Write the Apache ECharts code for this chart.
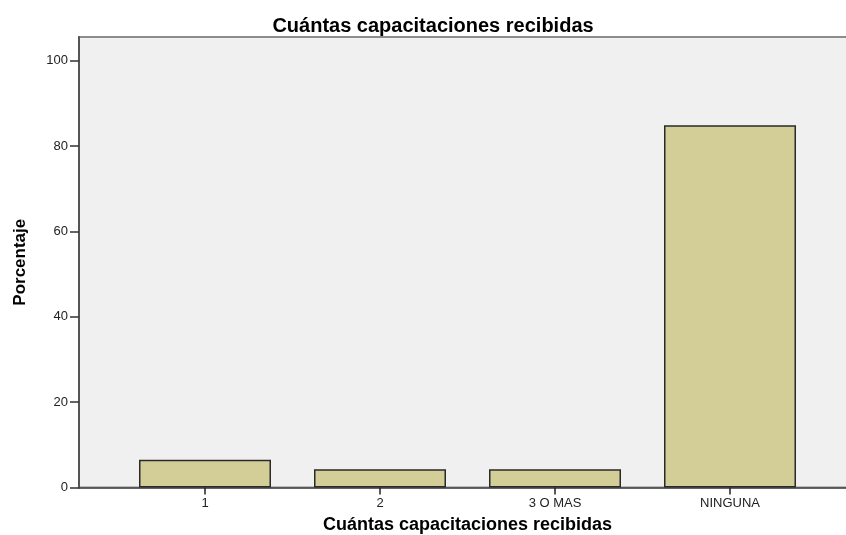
<!DOCTYPE html>
<html><head><meta charset="utf-8">
<script src="https://cdn.jsdelivr.net/npm/echarts@6/dist/echarts.min.js"></script>
<style>html,body{margin:0;padding:0;background:#fff}#c{width:846px;height:535px}</style>
</head><body><div id="c"></div>
<script>
var titleText = 'Cuántas capacitaciones recibidas';
var xAxisName = 'Cuántas capacitaciones recibidas';
var yAxisName = 'Porcentaje';
var categories = ['1', '2', '3 O MAS', 'NINGUNA'];
var percentages = [6.5, 4.3, 4.3, 84.9];
var yTicks = [0, 20, 40, 60, 80, 100];

var chart = echarts.init(document.getElementById('c'));
var yMax = 105.6;
var FONT = 'Liberation Sans, Arial, sans-serif';
chart.setOption({
  animation: false,
  backgroundColor: '#ffffff',
  title: {
    text: titleText, left: 428, top: 11, textAlign: 'center',
    textStyle: {fontFamily: FONT, fontSize: 20, fontWeight: 'bold', color: '#000'}
  },
  grid: [
    {left: 79, right: -5, top: 37, bottom: 47.5, show: true, backgroundColor: '#f0f0f0', borderColor: '#8c8c8c', borderWidth: 2, outerBoundsMode: 'none', containLabel: false},
    {left: 117.5, width: 700, top: 37, bottom: 47.5, outerBoundsMode: 'none', containLabel: false}
  ],
  xAxis: [
    {type: 'value', gridIndex: 0, min: 0, max: 1, axisLabel: {show: false}, axisTick: {show: false}, splitLine: {show: false},
     axisLine: {show: true, lineStyle: {color: '#444', width: 1.5}}},
    {type: 'category', gridIndex: 1, data: categories, boundaryGap: true,
     axisLine: {show: false},
     axisTick: {show: true, alignWithLabel: true, length: 7, lineStyle: {color: '#222', width: 1.5}},
     axisLabel: {fontFamily: FONT, fontSize: 13, color: '#222', margin: 9},
     name: xAxisName, nameLocation: 'middle', nameGap: 29,
     nameTextStyle: {fontFamily: FONT, fontSize: 18, fontWeight: 'bold', color: '#000'}}
  ],
  yAxis: [
    {type: 'value', gridIndex: 0, min: 0, max: yMax, interval: 20,
     axisLine: {show: true, lineStyle: {color: '#555', width: 2}},
     axisTick: {show: true, length: 9, lineStyle: {color: '#333', width: 1.5}},
     axisLabel: {fontFamily: FONT, fontSize: 13, color: '#222', margin: 11, showMaxLabel: false,
       formatter: function (v) { return yTicks.indexOf(v) >= 0 ? String(v) : ''; }},
     splitLine: {show: false},
     name: yAxisName, nameLocation: 'middle', nameGap: 50, nameRotate: 90,
     nameTextStyle: {fontFamily: FONT, fontSize: 17, fontWeight: 'bold', color: '#000'}},
    {type: 'value', gridIndex: 1, min: 0, max: yMax, show: false, splitLine: {show: false}}
  ],
  series: [{
    type: 'bar', xAxisIndex: 1, yAxisIndex: 1, data: percentages, barWidth: 132,
    itemStyle: {color: '#d3ce97', borderColor: '#2a2a2a', borderWidth: 1.5}
  }]
});
</script></body></html>
